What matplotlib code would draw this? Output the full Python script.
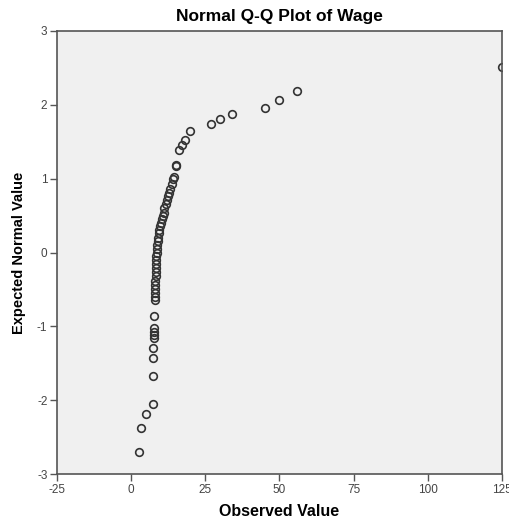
import numpy as np
import matplotlib
matplotlib.use('Agg')
import matplotlib.pyplot as plt

# observed wage and its expected normal value
observed = [2.5, 3.4, 5.0, 7.2, 7.4, 7.4, 7.5, 7.6, 7.6, 7.6, 7.7, 7.8, 7.9, 7.9,
            8.0, 8.0, 8.1, 8.1, 8.2, 8.2, 8.3, 8.3, 8.4, 8.5, 8.6, 8.7, 8.8, 9.0,
            9.1, 9.3, 9.5, 9.8, 10.0, 10.3, 10.6, 10.9, 11.2, 11.6, 12.0, 12.4,
            12.8, 13.2, 13.6, 14.1, 14.5, 15.0, 15.2, 16.2, 17.2, 18.2, 19.9,
            27.0, 30.0, 34.0, 45.2, 49.9, 56.0, 125.0]
expected = [-2.70, -2.37, -2.19, -2.05, -1.67, -1.43, -1.29, -1.16, -1.12, -1.07,
            -1.02, -0.86, -0.64, -0.60, -0.55, -0.50, -0.44, -0.38, -0.32, -0.27,
            -0.21, -0.15, -0.10, -0.05, 0.00, 0.05, 0.10, 0.16, 0.20, 0.26, 0.31,
            0.36, 0.40, 0.45, 0.50, 0.54, 0.60, 0.66, 0.71, 0.76, 0.80, 0.86,
            0.93, 1.00, 1.02, 1.17, 1.19, 1.39, 1.46, 1.52, 1.65, 1.74, 1.81,
            1.88, 1.96, 2.07, 2.19, 2.51]
xticks = [-25, 0, 25, 50, 75, 100, 125]
yticks = [-3, -2, -1, 0, 1, 2, 3]

plt.rcParams['font.family'] = ['Liberation Sans', 'DejaVu Sans']
plt.rcParams['axes.unicode_minus'] = False

fig = plt.figure(figsize=(5.1, 5.25), dpi=100)
ax = fig.add_axes([0.112, 0.097, 0.872, 0.844])
ax.set_facecolor('#f0f0f0')

ax.plot(observed, expected, linestyle='none', marker='o', markersize=5.5,
        markerfacecolor='none', markeredgecolor='#333333', markeredgewidth=1.2)

ax.set_xlim(-25, 125)
ax.set_ylim(-3, 3)
ax.set_xticks(xticks)
ax.set_yticks(yticks)
ax.tick_params(axis='both', direction='out', length=5, width=1, color='#555555',
               labelsize=8.5, labelcolor='#444444', pad=2)
for s in ax.spines.values():
    s.set_color('#555555')
    s.set_linewidth(1.2)

ax.set_title('Normal Q-Q Plot of Wage', fontsize=12.5, fontweight='bold', pad=7)
ax.set_xlabel('Observed Value', fontsize=11.5, fontweight='bold', labelpad=6)
ax.set_ylabel('Expected Normal Value', fontsize=10.5, fontweight='bold', labelpad=8)

fig.savefig('out.png', dpi=100)
